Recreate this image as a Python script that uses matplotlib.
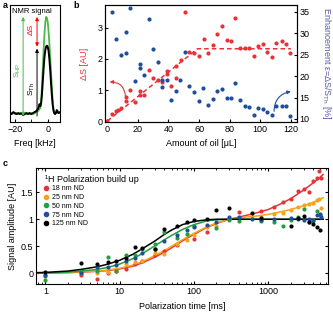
import matplotlib.pyplot as plt
from matplotlib.lines import Line2D

plt.rcParams['font.family'] = ['Liberation Sans', 'DejaVu Sans']
plt.rcParams['font.size'] = 6.5
plt.rcParams['axes.linewidth'] = 0.8
plt.rcParams['xtick.direction'] = 'in'
plt.rcParams['ytick.direction'] = 'in'
plt.rcParams['xtick.major.size'] = 2.5
plt.rcParams['ytick.major.size'] = 2.5
plt.rcParams['xtick.minor.size'] = 1.5
plt.rcParams['ytick.minor.size'] = 1.5
plt.rcParams['xtick.major.pad'] = 2.5
plt.rcParams['ytick.major.pad'] = 2

RED = '#e8323a'
BLUE = '#1f4e9c'
ORANGE = '#f7a21b'
GREEN = '#22a040'
LGREEN = '#4cb849'
SLATE = '#5a5aa8'

# ---- panel a: NMR signal
freq_a = [-23, -22, -21, -20, -19, -18, -17, -16, -15, -14, -13, -12, -11, -10, -9, -8, -7, -6,
          -5.5, -5, -4.5, -4, -3.5, -3, -2.5, -2, -1.5, -1, -0.5, 0, 0.5, 1, 1.5, 2, 2.5, 3,
          3.5, 4, 4.5, 5, 5.5, 6, 6.5, 7.5]
thermal_a = [0.03, 0.02, 0.04, 0.03, 0.02, 0.03, 0.02, 0.03, 0.01, 0.02, 0.03, 0.02, 0.03, 0.02,
             0.03, 0.04, 0.05, 0.07, 0.09, 0.12, 0.10, 0.13, 0.22, 0.35, 0.48, 0.59, 0.66, 0.70,
             0.71, 0.70, 0.66, 0.58, 0.47, 0.34, 0.22, 0.12, 0.06, 0.03, 0.02, 0.03, 0.06, 0.05,
             0.03, 0.04]
hyper_a = [0.02, 0.03, 0.03, 0.02, 0.03, 0.02, 0.03, 0.02, 0.02, 0.03, 0.02, 0.03, 0.02, 0.03,
           0.02, 0.03, 0.04, 0.05, 0.06, 0.07, 0.08, 0.15, 0.30, 0.48, 0.66, 0.82, 0.94, 1.00,
           0.99, 0.95, 0.86, 0.74, 0.60, 0.45, 0.30, 0.16, 0.07, 0.03, 0.02, 0.03, 0.05, 0.04,
           0.03, 0.03]

# ---- panel b: amount of oil
oil_red = [0, 3.0, 5.8, 7.2, 9.1, 11.9, 11.9, 15.0, 17.8, 21.1, 21.1, 23.9, 27.2, 30.2, 33.1,
           35.9, 39.2, 39.2, 41.8, 45.0, 45.0, 48.3, 51.0, 53.6, 56.9, 60.2, 63.0, 66.0, 68.9,
           71.7, 74.8, 78.0, 80.8, 83.7, 86.7, 90.0, 92.9, 95.7, 98.6, 101.5, 104.7, 107.6,
           110.6, 113.9, 116.7, 119.5]
delta_s = [0.01, 0.22, 0.33, 0.35, 0.41, 0.65, 0.78, 1.01, 0.62, 0.97, 0.85, 0.85, 1.66, 1.40,
           1.33, 1.26, 1.60, 1.51, 1.12, 1.40, 1.77, 1.97, 3.52, 2.21, 2.18, 2.11, 2.66, 2.18,
           2.46, 2.80, 3.07, 2.62, 2.59, 3.31, 2.37, 2.34, 2.37, 2.11, 2.43, 2.48, 2.21, 2.08,
           2.51, 2.59, 2.48, 2.18]
oil_blue = [3.0, 15.0, 5.8, 11.9, 9.1, 11.9, 27.2, 30.2, 21.1, 21.1, 33.1, 17.8, 23.9, 35.9,
            35.9, 39.2, 41.8, 45.0, 47.8, 51.0, 53.6, 56.9, 59.7, 62.8, 65.6, 68.9, 71.7, 74.8,
            78.0, 80.8, 83.7, 86.7, 90.0, 92.9, 95.7, 98.6, 101.5, 104.7, 107.6, 110.6, 113.9,
            116.7, 119.5]
enhancement = [34.9, 36.0, 28.7, 30.3, 25.0, 25.3, 33.3, 26.3, 22.8, 21.9, 23.4, 18.8, 20.2,
               19.1, 17.4, 19.1, 14.5, 16.6, 19.1, 25.6, 17.7, 16.3, 14.3, 17.2, 13.2, 14.7,
               16.6, 17.0, 14.9, 15.0, 18.5, 14.5, 13.1, 12.7, 10.9, 12.6, 12.3, 11.6, 10.9,
               13.1, 13.1, 13.1, 10.6]
fit_oil = [0, 59, 120]
fit_ds = [0, 2.33, 2.33]

# ---- panel c: polarization build up
t_fit = [0.75, 1, 2, 3, 5, 7, 10, 15, 20, 30, 40, 50, 70, 100, 150, 200, 300, 500, 700, 1000,
         1500, 2000, 3000, 4000, 5000, 5500]
fit_18 = [0.0, 0.003, 0.01, 0.02, 0.035, 0.05, 0.08, 0.13, 0.19, 0.30, 0.39, 0.47, 0.60, 0.72,
          0.85, 0.92, 1.0, 1.07, 1.12, 1.18, 1.29, 1.38, 1.54, 1.67, 1.78, 1.83]
fit_25 = [0.0, 0.005, 0.015, 0.025, 0.04, 0.06, 0.09, 0.15, 0.21, 0.33, 0.42, 0.50, 0.62, 0.74,
          0.86, 0.93, 1.0, 1.04, 1.06, 1.09, 1.14, 1.18, 1.25, 1.31, 1.37, 1.40]
fit_50 = [0.0, 0.005, 0.02, 0.04, 0.07, 0.11, 0.17, 0.27, 0.36, 0.51, 0.62, 0.70, 0.81, 0.90,
          0.97, 0.99, 1.0, 1.0, 1.0, 1.0, 1.0, 1.0, 1.0, 1.0, 1.0, 1.0]
fit_125 = [0.01, 0.015, 0.04, 0.07, 0.12, 0.17, 0.24, 0.35, 0.45, 0.60, 0.72, 0.80, 0.90, 0.96,
           0.99, 1.0, 1.0, 1.0, 1.0, 1.0, 1.0, 1.0, 1.0, 1.0, 1.0, 1.0]

t_18 = [1, 3, 5, 7, 9, 12, 16, 20, 30, 40, 60, 100, 150, 400, 800, 1200, 1600, 2000, 2500, 3000,
        3500, 4000, 4500, 4800, 5200]
amp_18 = [-0.05, -0.04, -0.10, 0.01, 0.05, 0.08, 0.17, 0.22, 0.33, 0.42, 0.52, 0.64, 0.76, 1.13,
          1.16, 1.22, 1.32, 1.38, 1.53, 1.56, 1.51, 1.70, 1.76, 1.90, 1.76]
t_25 = [1, 3, 5, 7, 9, 12, 16, 20, 30, 40, 60, 80, 100, 150, 200, 300, 600, 800, 1200, 1600,
        2000, 2500, 3000, 3500, 4000, 4500, 4800, 5200]
amp_25 = [0.0, 0.01, 0.0, 0.03, 0.04, 0.17, 0.20, 0.22, 0.37, 0.36, 0.55, 0.62, 0.70, 0.86,
          0.88, 1.0, 1.04, 1.05, 1.09, 1.12, 1.17, 1.22, 1.26, 1.28, 1.30, 1.35, 1.38, 1.21]
t_50 = [1, 3, 5, 7, 9, 12, 16, 20, 30, 40, 60, 80, 100, 200, 300, 400, 800, 1200, 1600, 2000,
        2500, 3000, 3500, 4000, 4500, 5000]
amp_50 = [-0.12, 0.03, 0.04, 0.30, 0.04, 0.34, 0.33, 0.45, 0.55, 0.76, 0.65, 0.72, 0.88, 0.84,
          0.99, 0.96, 0.97, 0.95, 0.87, 0.98, 1.05, 1.19, 0.95, 0.96, 1.15, 1.08]
t_75 = [1, 3, 5, 7, 9, 12, 16, 20, 30, 40, 60, 80, 100, 150, 200, 300, 400, 600, 800, 1200,
        2000, 2500, 3000, 3500, 4000, 4500, 5000, 5200]
amp_75 = [-0.04, 0.0, 0.11, 0.12, 0.15, 0.23, 0.29, 0.38, 0.45, 0.60, 0.71, 0.80, 0.86, 0.90,
          0.95, 1.05, 1.04, 1.0, 0.99, 1.0, 1.02, 1.0, 0.98, 1.0, 0.98, 1.08, 1.10, 1.04]
t_125 = [1, 3, 5, 7, 9, 12, 16, 20, 30, 40, 60, 80, 100, 150, 200, 300, 600, 800, 2000, 2500,
         3000, 3500, 4000, 4500, 5000]
amp_125 = [0.02, 0.19, 0.17, 0.20, 0.22, 0.28, 0.48, 0.46, 0.45, 0.82, 0.88, 0.94, 0.98, 1.0,
           1.18, 1.21, 1.11, 1.02, 0.88, 1.03, 1.06, 0.95, 0.92, 0.86, 0.80]

sizes = ['18 nm ND', '25 nm ND', '50 nm ND', '75 nm ND', '125 nm ND']
size_colors = [RED, ORANGE, GREEN, BLUE, 'black']

W, H = 333, 316
fig = plt.figure(figsize=(W / 100, H / 100), dpi=100)


def box(l, t, r, b):
    return [l / W, 1 - b / H, (r - l) / W, (b - t) / H]


# panel a
ax_a = fig.add_axes(box(10, 5, 60, 122))
ax_a.plot(freq_a, hyper_a, color=LGREEN, lw=1.3)
ax_a.plot(freq_a, thermal_a, color='black', lw=1.4)
ax_a.set_xlim(-23, 7.5)
ax_a.set_ylim(-0.06, 1.12)
ax_a.set_xticks([-20, 0])
ax_a.set_xticks([-10], minor=True)
ax_a.tick_params(axis='x', which='minor', length=2.5)
ax_a.set_yticks([])
ax_a.set_xlabel('Freq [kHz]', labelpad=3)
ax_a.annotate('', xy=(-15, 1.0), xytext=(-15, 0.0),
              arrowprops=dict(arrowstyle='<|-|>', color=LGREEN, lw=0.7, mutation_scale=5,
                              shrinkA=0, shrinkB=0))
ax_a.annotate('', xy=(-6.5, 0.68), xytext=(-6.5, 0.0),
              arrowprops=dict(arrowstyle='-|>', color='black', lw=0.7, mutation_scale=5,
                              shrinkA=0, shrinkB=0))
ax_a.annotate('', xy=(-6.5, 1.0), xytext=(-6.5, 0.70),
              arrowprops=dict(arrowstyle='<|-|>', color='red', lw=0.7, mutation_scale=5,
                              shrinkA=0, shrinkB=0))
ax_a.text(-18.3, 0.46, '$\\mathregular{S_{HP}}$', color=LGREEN, rotation=90,
          ha='center', va='center', fontsize=6)
ax_a.text(-9.6, 0.27, '$\\mathregular{S_{Th}}$', color='black', rotation=90,
          ha='center', va='center', fontsize=6)
ax_a.text(-10.3, 0.87, 'ΔS', color='red', rotation=90, ha='center', va='center', fontsize=6)
ax_a.text(-21.5, 1.05, 'NMR signal', fontsize=5.5, va='center')
fig.text(3 / W, 1 - 5 / H, 'a', fontsize=6.5, fontweight='bold', va='center')

# panel b
ax_b = fig.add_axes(box(105, 5, 297, 122))
ax_b2 = ax_b.twinx()
ax_b.plot(fit_oil, fit_ds, color=RED, lw=1.1, ls=(0, (3, 2)))
ax_b.scatter(oil_red, delta_s, s=9, color=RED, lw=0, zorder=3)
ax_b2.scatter(oil_blue, enhancement, s=9, color=BLUE, lw=0, zorder=3)
ax_b.set_xlim(-1.5, 124)
ax_b.set_ylim(-0.03, 3.74)
ax_b2.set_ylim(9.3, 36.6)
ax_b.set_xticks([0, 20, 40, 60, 80, 100, 120])
ax_b.set_yticks([0, 1, 2, 3])
ax_b2.set_yticks([10, 15, 20, 25, 30, 35])
ax_b.set_xlabel('Amount of oil [μL]', labelpad=3)
ax_b.set_ylabel('ΔS [AU]', color=RED, labelpad=6)
ax_b2.set_ylabel('Enhancement ε=ΔS/$\\mathregular{S_{Th}}$ [%]', color=SLATE,
                 rotation=270, va='center', ha='center', fontsize=6.5)
ax_b2.yaxis.set_label_coords((327 - 105) / 192, 0.5)
ax_b.annotate('', xy=(1.5, 1.26), xytext=(11.9, 0.80),
              arrowprops=dict(arrowstyle='-|>', color=RED, lw=0.8, mutation_scale=5,
                              connectionstyle='arc3,rad=0.45', shrinkA=0, shrinkB=0))
ax_b2.annotate('', xy=(120, 16.4), xytext=(109, 11.8),
               arrowprops=dict(arrowstyle='-|>', color=BLUE, lw=0.8, mutation_scale=5,
                               connectionstyle='arc3,rad=-0.4', shrinkA=0, shrinkB=0))
fig.text(73 / W, 1 - 5 / H, 'b', fontsize=6.5, fontweight='bold', va='center')

# panel c
ax_c = fig.add_axes(box(36, 168, 328, 284))
ax_c.set_xscale('log')
ax_c.plot(t_fit, fit_18, color=RED, lw=1.1)
ax_c.plot(t_fit, fit_25, color=ORANGE, lw=1.1)
ax_c.plot(t_fit, fit_50, color=GREEN, lw=1.1)
ax_c.plot(t_fit, fit_125, color='black', lw=1.1)
amps = [(t_18, amp_18), (t_25, amp_25), (t_50, amp_50), (t_75, amp_75), (t_125, amp_125)]
for (tt, aa), c in zip(amps, size_colors):
    ax_c.scatter(tt, aa, s=9, color=c, lw=0, zorder=3)
ax_c.set_xlim(0.745, 6400)
ax_c.set_ylim(-0.2, 1.95)
ax_c.set_xticks([1, 10, 100, 1000])
ax_c.set_xticklabels(['1', '10', '100', '1000'])
ax_c.set_yticks([0, 0.5, 1, 1.5])
ax_c.set_yticklabels(['0', '0.5', '1', '1.5'])
ax_c.tick_params(which='both', top=True, right=True)
ax_c.set_xlabel('Polarization time [ms]', labelpad=4)
ax_c.set_ylabel('Signal amplitude [AU]', labelpad=3)
ax_c.text(0.03, 0.905, '¹H Polarization build up', transform=ax_c.transAxes, fontsize=6.5,
          va='center')
handles = [Line2D([], [], ls='', marker='o', ms=3, color=c) for c in size_colors]
ax_c.legend(handles, sizes, loc='upper left', bbox_to_anchor=(0.025, 0.85), frameon=False,
            fontsize=5, handlelength=0.7, handletextpad=0.5, labelspacing=0.25,
            borderaxespad=0, borderpad=0)
fig.text(3 / W, 1 - 163 / H, 'c', fontsize=6.5, fontweight='bold', va='center')

fig.savefig('out.png', dpi=100)
